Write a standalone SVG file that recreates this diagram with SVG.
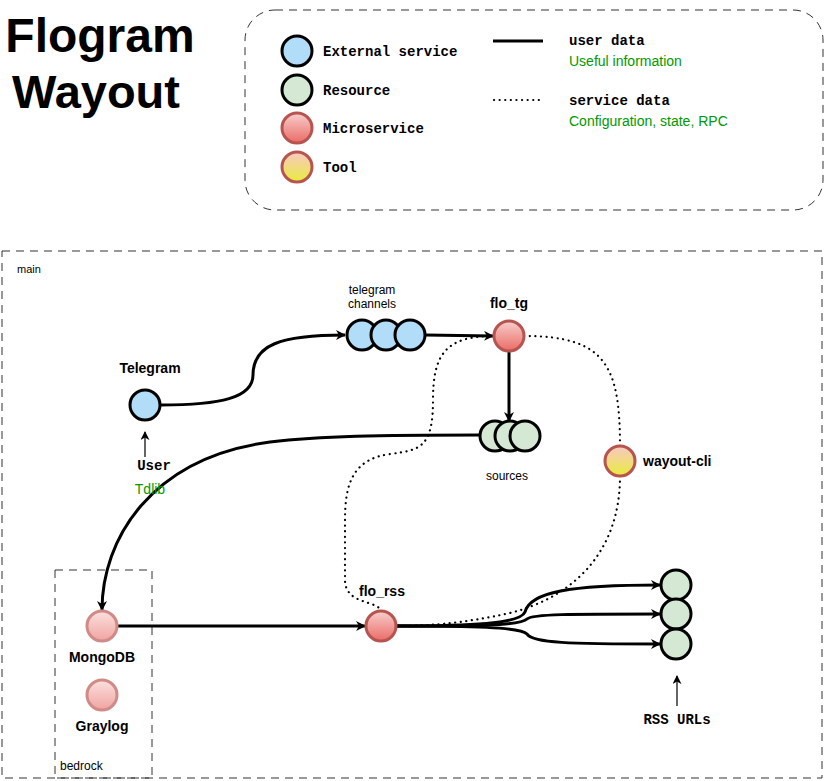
<svg xmlns="http://www.w3.org/2000/svg" width="834" height="781" viewBox="0 0 834 781">
<defs>
<linearGradient id="gMicro" x1="0" y1="0" x2="0" y2="1">
<stop offset="0" stop-color="#f8cecc"/>
<stop offset="1" stop-color="#ea6b66"/>
</linearGradient>
<linearGradient id="gTool" x1="0" y1="0" x2="0" y2="1">
<stop offset="0" stop-color="#f8c8c4"/>
<stop offset="1" stop-color="#e8ec3c"/>
</linearGradient>
<linearGradient id="gDb" x1="0" y1="0" x2="0" y2="1">
<stop offset="0" stop-color="#fbe0de"/>
<stop offset="1" stop-color="#f0a4a1"/>
</linearGradient>
<marker id="arr" viewBox="0 0 10 10" refX="9" refY="5" markerWidth="10" markerHeight="10" markerUnits="userSpaceOnUse" orient="auto">
<path d="M0,0 L10,5 L0,10 L3,5 Z" fill="#000"/>
</marker>
<marker id="arrS" viewBox="0 0 10 10" refX="9" refY="5" markerWidth="9" markerHeight="9" markerUnits="userSpaceOnUse" orient="auto">
<path d="M0,0 L10,5 L0,10 L3,5 Z" fill="#000"/>
</marker>
</defs>
<style>
.ext{fill:#b1ddf8;stroke:#000;stroke-width:3}
.res{fill:#d5e8d4;stroke:#000;stroke-width:3}
.mic{fill:url(#gMicro);stroke:#b85450;stroke-width:3}
.tool{fill:url(#gTool);stroke:#b85450;stroke-width:3}
.db{fill:url(#gDb);stroke:#d08a87;stroke-width:3}
.lbl{font-family:"Liberation Sans",Arial,sans-serif;font-weight:bold;font-size:14px;fill:#000}
.sm{font-family:"Liberation Sans",Arial,sans-serif;font-size:12px;fill:#000}
.mono{font-family:"Liberation Mono","Courier New",monospace;font-weight:bold;font-size:14px;fill:#000}
.green{font-family:"Liberation Sans",Arial,sans-serif;font-size:14px;fill:#009900}
.solid{fill:none;stroke:#000;stroke-width:3}
.dot{fill:none;stroke:#000;stroke-width:2.2;stroke-dasharray:0.1 5.5;stroke-linecap:round}
.box{fill:none;stroke:#333;stroke-width:1;stroke-dasharray:8 6}
</style>
<rect width="834" height="781" fill="#fff"/>

<g id="title">
<text x="100" y="52" text-anchor="middle" style="font-family:'Liberation Sans',Arial,sans-serif;font-weight:bold;font-size:48px">Flogram</text>
<text x="96" y="108" text-anchor="middle" style="font-family:'Liberation Sans',Arial,sans-serif;font-weight:bold;font-size:47px">Wayout</text>
</g>

<g id="legend">
<rect x="245" y="10" width="578" height="200" rx="30" ry="30" class="box"/>
<circle cx="297" cy="51" r="15" class="ext"/>
<text x="323" y="56" class="mono">External service</text>
<circle cx="297" cy="90" r="15" class="res"/>
<text x="323" y="95" class="mono">Resource</text>
<circle cx="297" cy="128" r="15" class="mic"/>
<text x="323" y="133" class="mono">Microservice</text>
<circle cx="297" cy="167" r="15" class="tool"/>
<text x="323" y="172" class="mono">Tool</text>
<line x1="493" y1="41" x2="543" y2="41" class="solid"/>
<text x="569" y="45" class="mono">user data</text>
<text x="569" y="66" class="green">Useful information</text>
<line x1="494" y1="100" x2="543" y2="100" class="dot"/>
<text x="569" y="105" class="mono">service data</text>
<text x="569" y="126" class="green">Configuration, state, RPC</text>
</g>

<g id="main-container">
<rect x="2" y="251" width="820" height="527" class="box"/>
<text x="17" y="273" class="sm" style="font-size:11px">main</text>
</g>
<g id="bedrock-container">
<rect x="55" y="570" width="97" height="208" class="box"/>
<text x="60" y="770" class="sm">bedrock</text>
</g>

<g id="connectors">
<path d="M161,405 C 220,405 253,398 253,375 C 253,345 280,335 345,335" class="solid" marker-end="url(#arr)"/>
<path d="M425,335 L493,336" class="solid" marker-end="url(#arr)"/>
<path d="M509,351 L509,421" class="solid" marker-end="url(#arr)"/>
<path d="M480,435 C 380,435 320,436 270,442 C 150,458 102,540 102,610" class="solid" marker-end="url(#arr)"/>
<path d="M117,626 L365,626" class="solid" marker-end="url(#arr)"/>
<path d="M396,626 C 470,626 520,624 525,612 C 530,592 570,585 660,585" class="solid" marker-end="url(#arr)"/>
<path d="M396,626 C 470,626 520,626 527,619 C 532,614 570,614 660,614" class="solid" marker-end="url(#arr)"/>
<path d="M396,626 C 470,626 520,627 527,634 C 532,643 570,644 660,644" class="solid" marker-end="url(#arr)"/>
<path d="M145,457 L145,432" fill="none" stroke="#000" stroke-width="1.2" marker-end="url(#arrS)"/>
<path d="M677,706 L677,676" fill="none" stroke="#000" stroke-width="1.2" marker-end="url(#arrS)"/>
<path d="M494,336 C 445,336 433,355 433,400 C 433,448 420,450 390,454 C 352,459 345,485 345,520 L 345,580 C 345,605 378,600 381,611" class="dot"/>
<path d="M524,336 C 605,336 620,365 620,446" class="dot"/>
<path d="M620,476 C 620,555 570,598 510,613 C 460,624 425,626 396,626" class="dot"/>
</g>

<g id="telegram">
<circle cx="145" cy="405" r="15" class="ext"/>
<text x="150" y="373" text-anchor="middle" class="lbl">Telegram</text>
<text x="154" y="470" text-anchor="middle" class="mono">User</text>
<text x="150" y="494" text-anchor="middle" class="green">Tdlib</text>
</g>

<g id="telegram-channels">
<circle cx="362" cy="335" r="15" class="ext"/>
<circle cx="386" cy="335" r="15" class="ext"/>
<circle cx="410" cy="335" r="15" class="ext"/>
<text x="372" y="294" text-anchor="middle" class="sm">telegram</text>
<text x="372" y="308" text-anchor="middle" class="sm">channels</text>
</g>

<g id="flo_tg">
<circle cx="509" cy="336" r="15" class="mic"/>
<text x="509" y="308" text-anchor="middle" class="lbl">flo_tg</text>
</g>

<g id="sources">
<circle cx="495" cy="436" r="15" class="res"/>
<circle cx="510" cy="436" r="15" class="res"/>
<circle cx="525" cy="436" r="15" class="res"/>
<text x="507" y="480" text-anchor="middle" class="sm">sources</text>
</g>

<g id="wayout-cli">
<circle cx="620" cy="461" r="15" class="tool"/>
<text x="643" y="466" class="lbl">wayout-cli</text>
</g>

<g id="mongodb">
<circle cx="102" cy="626" r="15" class="db"/>
<text x="102" y="662" text-anchor="middle" class="lbl">MongoDB</text>
</g>

<g id="graylog">
<circle cx="102" cy="695" r="15" class="db"/>
<text x="102" y="731" text-anchor="middle" class="lbl">Graylog</text>
</g>

<g id="flo_rss">
<circle cx="381" cy="626" r="15" class="mic"/>
<text x="382" y="596" text-anchor="middle" class="lbl">flo_rss</text>
</g>

<g id="rss-urls">
<circle cx="676" cy="585" r="15" class="res"/>
<circle cx="676" cy="614" r="15" class="res"/>
<circle cx="676" cy="644" r="15" class="res"/>
<text x="677" y="724" text-anchor="middle" class="mono">RSS URLs</text>
</g>
</svg>
